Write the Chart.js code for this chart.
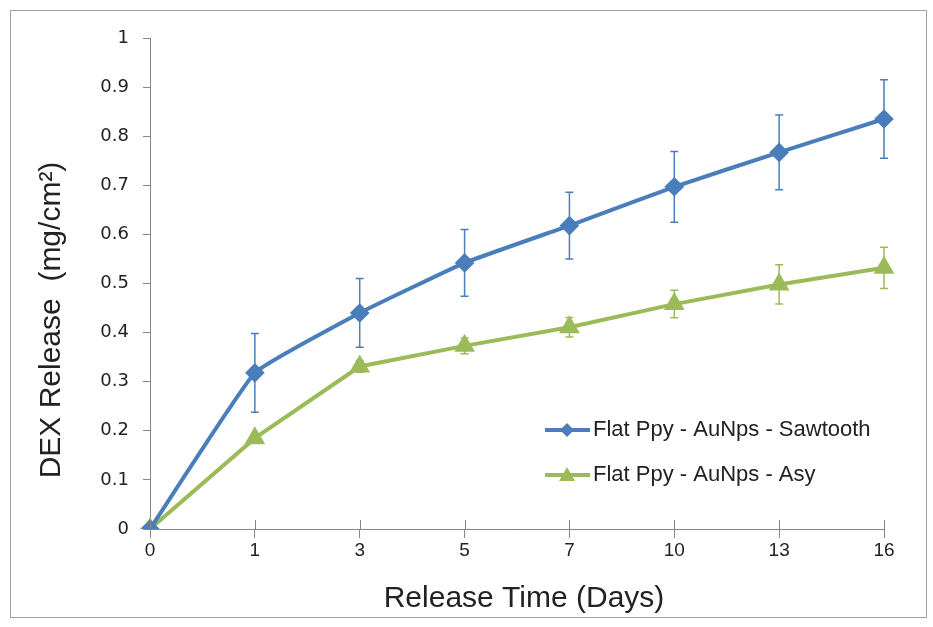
<!DOCTYPE html>
<html>
<head>
<meta charset="utf-8">
<script src="https://cdn.jsdelivr.net/npm/chart.js@4.4.1/dist/chart.umd.min.js"></script>
<style>
  html, body { margin: 0; padding: 0; background: #fff; }
  #wrap { width: 933px; height: 627px; position: relative; }
</style>
</head>
<body>
<div id="wrap"><canvas id="myChart" width="933" height="627"></canvas></div>
<script>
// release days (categories)
let days = ['0', '1', '3', '5', '7', '10', '13', '16'];

// Flat Ppy - AuNps - Sawtooth
let sawtooth = [0, 0.318, 0.44, 0.542, 0.618, 0.697, 0.767, 0.835];
let sawtoothErr = [0, 0.08, 0.07, 0.068, 0.068, 0.072, 0.076, 0.08];

// Flat Ppy - AuNps - Asy
let asy = [0, 0.185, 0.331, 0.373, 0.411, 0.458, 0.498, 0.532];
let asyErr = [0, 0.004, 0.012, 0.016, 0.02, 0.028, 0.04, 0.042];

let yTicks = [0, 0.1, 0.2, 0.3, 0.4, 0.5, 0.6, 0.7, 0.8, 0.9, 1];

const blue = '#4A7EBB';
const green = '#9BBB59';
const axisGrey = '#868686';
const sans = '"Liberation Sans", Arial, sans-serif';

/* error bars, crossing x ticks, frame, titles, legend */
const extras = {
    id: 'extras',
    beforeDraw(chart) {
        const ctx = chart.ctx;
        ctx.save();
        ctx.fillStyle = '#fff';
        ctx.fillRect(0, 0, chart.width, chart.height);
        ctx.strokeStyle = '#a0a0a0';
        ctx.lineWidth = 1;
        ctx.strokeRect(10.5, 10.5, 916, 607);
        ctx.restore();
    },
    afterDatasetsDraw(chart) {
        const ctx = chart.ctx;
        const x = chart.scales.x, y = chart.scales.y;
        const errs = [sawtoothErr, asyErr];
        ctx.save();
        chart.data.datasets.forEach((ds, di) => {
            ctx.strokeStyle = ds.borderColor;
            ctx.lineWidth = 1.5;
            ds.data.forEach((v, i) => {
                const e = errs[di][i];
                if (!e) return;
                const px = x.getPixelForValue(i);
                const top = y.getPixelForValue(v + e);
                const bot = y.getPixelForValue(v - e);
                ctx.beginPath();
                ctx.moveTo(px, top); ctx.lineTo(px, bot);
                ctx.moveTo(px - 4, top); ctx.lineTo(px + 4, top);
                ctx.moveTo(px - 4, bot); ctx.lineTo(px + 4, bot);
                ctx.stroke();
            });
        });
        // tick marks poking into the plot on the x axis
        ctx.strokeStyle = axisGrey;
        ctx.lineWidth = 1;
        days.forEach((d, i) => {
            const px = Math.round(x.getPixelForValue(i)) + 0.5;
            ctx.beginPath();
            ctx.moveTo(px, chart.chartArea.bottom);
            ctx.lineTo(px, chart.chartArea.bottom - 9);
            ctx.stroke();
        });
        // axis titles
        ctx.fillStyle = '#222';
        ctx.font = '30px ' + sans;
        ctx.textAlign = 'center';
        ctx.textBaseline = 'middle';
        ctx.fillText('Release Time (Days)', 524, 599);
        ctx.save();
        ctx.translate(52, 320);
        ctx.rotate(-Math.PI / 2);
        ctx.fillText('DEX Release  (mg/cm²)', 0, 0);
        ctx.restore();
        // legend
        const lx = 545, ly = [430, 475];
        ctx.font = '22px ' + sans;
        ctx.textAlign = 'left';
        chart.data.datasets.forEach((ds, di) => {
            const yy = ly[di];
            ctx.strokeStyle = ds.borderColor;
            ctx.lineWidth = 4;
            ctx.beginPath();
            ctx.moveTo(lx, yy); ctx.lineTo(lx + 45, yy);
            ctx.stroke();
            ctx.fillStyle = ds.borderColor;
            ctx.beginPath();
            if (di === 0) {
                ctx.moveTo(lx + 22, yy - 7); ctx.lineTo(lx + 29, yy);
                ctx.lineTo(lx + 22, yy + 7); ctx.lineTo(lx + 15, yy);
            } else {
                ctx.moveTo(lx + 22, yy - 8); ctx.lineTo(lx + 30, yy + 6);
                ctx.lineTo(lx + 14, yy + 6);
            }
            ctx.closePath();
            ctx.fill();
            ctx.fillStyle = '#222';
            ctx.fillText(ds.label, lx + 48, yy);
        });
        ctx.restore();
    }
};

let data = {
    labels: days,
    datasets: [{
        label: 'Flat Ppy - AuNps - Sawtooth',
        data: sawtooth,
        borderColor: blue,
        backgroundColor: blue,
        borderWidth: 4,
        pointStyle: 'rectRot',
        pointRadius: 7,
        pointHoverRadius: 7,
        tension: 0.1
    }, {
        label: 'Flat Ppy - AuNps - Asy',
        data: asy,
        borderColor: green,
        backgroundColor: green,
        borderWidth: 4,
        pointStyle: 'triangle',
        pointRadius: 8,
        pointHoverRadius: 8,
        tension: 0
    }]
};

let config = {
    type: 'line',
    data: data,
    options: {
        responsive: false,
        animation: false,
        layout: { padding: { top: 38, right: 49, left: 0, bottom: 0 } },
        plugins: {
            legend: { display: false },
            tooltip: { enabled: false }
        },
        scales: {
            x: {
                offset: false,
                grid: { drawOnChartArea: false, color: axisGrey, tickLength: 9, tickColor: axisGrey },
                border: { color: axisGrey, width: 1 },
                ticks: {
                    color: '#222',
                    font: { family: sans, size: 19 },
                    padding: 1,
                    maxRotation: 0
                },
                afterFit: s => { s.height = 98; }
            },
            y: {
                min: 0,
                max: 1,
                afterBuildTicks: s => { s.ticks = yTicks.map(v => ({ value: v })); },
                grid: { drawOnChartArea: false, color: axisGrey, tickLength: 7, tickColor: axisGrey },
                border: { color: axisGrey, width: 1 },
                ticks: {
                    color: '#222',
                    font: { family: '"DejaVu Sans", sans-serif', size: 18 },
                    padding: 14,
                    callback: v => String(v)
                },
                afterFit: s => { s.width = 150; }
            }
        }
    },
    plugins: [extras]
};

var myChart = new Chart(document.getElementById('myChart').getContext('2d'), config);
</script>
</body>
</html>
